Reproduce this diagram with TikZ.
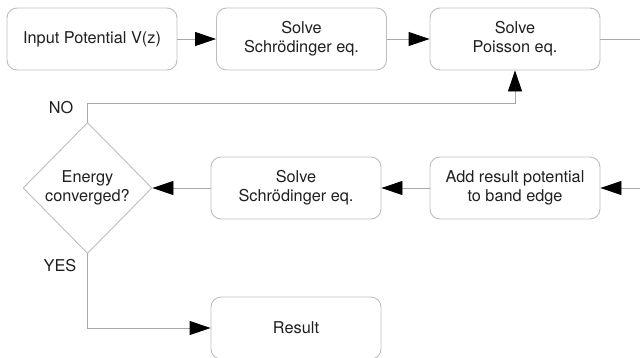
\documentclass[tikz,border=0pt]{standalone}
\usepackage{fontspec}
\setmainfont{TeX Gyre Heros}
\usetikzlibrary{shapes.geometric,arrows.meta}
\definecolor{boxgray}{gray}{0.74}
\definecolor{linegray}{gray}{0.66}
\definecolor{textgray}{gray}{0.12}
\tikzset{
	block/.style={draw=boxgray, line width=0.9pt, rounded corners=10pt, minimum width=170pt, minimum height=62pt, align=center, text=textgray, font=\fontsize{16.3}{19}\selectfont},
	decision/.style={diamond, draw=boxgray, line width=0.9pt, minimum width=129pt, minimum height=131pt, inner sep=0pt, align=center, text=textgray, font=\fontsize{16.3}{19}\selectfont},
	lbl/.style={text=textgray, font=\fontsize{16.3}{19}\selectfont},
	conn/.style={draw=linegray, line width=0.9pt},
	flow/.style={conn, -{Triangle[length=21pt, width=14pt, color=black]}}
}
\begin{document}
\begin{tikzpicture}[x=1pt, y=-1pt]
\useasboundingbox (0,0) rectangle (640,357);

% top row
\node[block] (input) at (92,39) {Input Potential V(z)};
\node[block] (schr) at (301.5,39) {Solve\\Schrödinger eq.};
\node[block] (poisson) at (515,39) {Solve\\Poisson eq.};
\coordinate (exitR) at (640,39);

% middle row
\coordinate (enterR) at (640,188);
\node[block] (addpot) at (515,188) {Add result potential\\to band edge};
\node[block] (schrtwo) at (296,188) {Solve\\Schrödinger eq.};
\node[decision] (conv) at (87.5,188) {Energy\\converged?};
\node[lbl] (no) at (61,108) {NO};
\node[lbl] (yes) at (60,266) {YES};

% bottom
\node[block] (result) at (296,328) {Result};

\draw[flow] (input) -- (schr);
\draw[flow] (schr) -- (poisson);
\draw[conn] (poisson) -- (exitR);
\draw[flow] (enterR) -- (addpot);
\draw[flow] (addpot) -- (schrtwo);
\draw[flow] (schrtwo) -- (conv);
\draw[flow] (conv.north) -- ++(0,-19) -| (poisson.south);
\draw[flow] (conv.south) |- (result);
\end{tikzpicture}
\end{document}
